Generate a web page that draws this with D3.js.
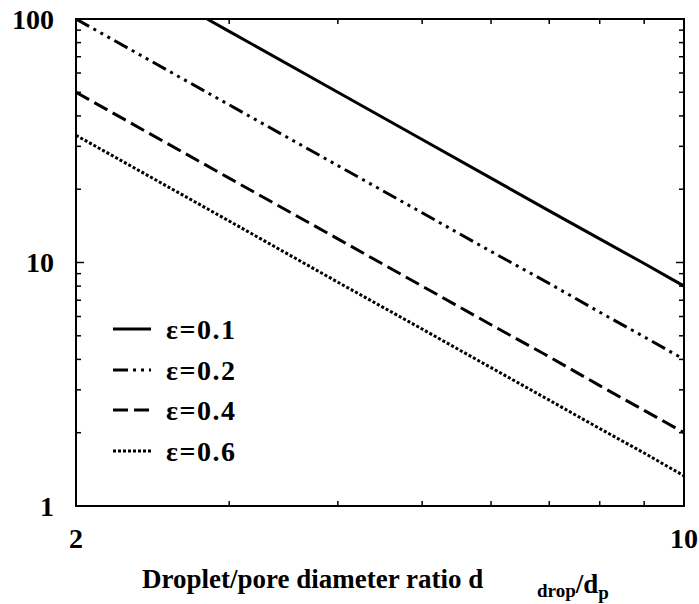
<!DOCTYPE html>
<html>
<head>
<meta charset="utf-8">
<script src="https://cdn.jsdelivr.net/npm/d3@7"></script>
<style>
  html, body { margin: 0; padding: 0; background: #fff; }
  svg { display: block; }
  text { font-family: "Liberation Serif", "Times New Roman", serif; font-weight: bold; fill: #000; }
</style>
</head>
<body>
<svg id="chart" width="699" height="604"></svg>
<script>
// ---- data ----
const xValues01 = [2.83, 3, 4, 5, 6, 7, 8, 9, 10];
const yValues01 = [100, 89, 50, 32, 22.2, 16.3, 12.5, 9.9, 8];
const xValues = [2, 3, 4, 5, 6, 7, 8, 9, 10];
const yValues02 = [100, 44.4, 25, 16, 11.1, 8.2, 6.25, 4.95, 4];
const yValues04 = [50, 22.2, 12.5, 8, 5.55, 4.1, 3.12, 2.47, 2];
const yValues06 = [33.3, 14.8, 8.3, 5.33, 3.7, 2.72, 2.08, 1.65, 1.33];
const seriesNames = ["ε=0.1", "ε=0.2", "ε=0.4", "ε=0.6"];
const xTickLabels = [2, 10];
const yTickLabels = [1, 10, 100];
const xMinorTicks = [3, 4, 5, 6, 7, 8, 9];
const yMinorTicks = [2, 3, 4, 5, 6, 7, 8, 9, 20, 30, 40, 50, 60, 70, 80, 90];
const yMajorTicks = [10];

const series = [
  { name: seriesNames[0], xs: xValues01, ys: yValues01, dash: null },
  { name: seriesNames[1], xs: xValues, ys: yValues02, dash: "15,5,3,5,3,5,3,5" },
  { name: seriesNames[2], xs: xValues, ys: yValues04, dash: "15,6" },
  { name: seriesNames[3], xs: xValues, ys: yValues06, dash: "3,2" }
];

// ---- layout ----
const L = 76, R = 684, T = 19, B = 506;
const svg = d3.select("#chart");

const x = d3.scaleLog().domain([2, 10]).range([L, R]);
const y = d3.scaleLog().domain([1, 100]).range([B, T]);

svg.append("defs").append("clipPath").attr("id", "clip")
  .append("rect").attr("x", L).attr("y", T).attr("width", R - L).attr("height", B - T);

// frame
svg.append("rect").attr("x", L).attr("y", T).attr("width", R - L).attr("height", B - T)
  .attr("fill", "none").attr("stroke", "#000").attr("stroke-width", 2);

// ticks (inward, all four sides)
const tickG = svg.append("g").attr("stroke", "#000").attr("stroke-width", 1.5);
const minorLen = 5, majorLen = 8;
xMinorTicks.forEach(v => {
  tickG.append("line").attr("x1", x(v)).attr("x2", x(v)).attr("y1", B).attr("y2", B - minorLen);
  tickG.append("line").attr("x1", x(v)).attr("x2", x(v)).attr("y1", T).attr("y2", T + minorLen);
});
yMinorTicks.forEach(v => {
  tickG.append("line").attr("x1", L).attr("x2", L + minorLen).attr("y1", y(v)).attr("y2", y(v));
  tickG.append("line").attr("x1", R).attr("x2", R - minorLen).attr("y1", y(v)).attr("y2", y(v));
});
yMajorTicks.forEach(v => {
  tickG.append("line").attr("x1", L).attr("x2", L + majorLen).attr("y1", y(v)).attr("y2", y(v));
  tickG.append("line").attr("x1", R).attr("x2", R - majorLen).attr("y1", y(v)).attr("y2", y(v));
});

// tick labels
svg.append("g").selectAll("text").data(yTickLabels).join("text")
  .attr("x", 54).attr("y", d => y(d)).attr("dy", "0.35em")
  .attr("text-anchor", "end").attr("font-size", 28).text(d => d);
svg.append("g").selectAll("text").data(xTickLabels).join("text")
  .attr("x", d => x(d)).attr("y", 548)
  .attr("text-anchor", "middle").attr("font-size", 28).text(d => d);

// x axis title
const title = svg.append("text").attr("x", 142).attr("y", 588).attr("font-size", 27);
title.append("tspan").text("Droplet/pore diameter ratio d");
title.append("tspan").attr("x", 537).attr("y", 597).attr("font-size", 19).text("drop");
title.append("tspan").attr("y", 593).attr("font-size", 27).text("/d");
title.append("tspan").attr("y", 599).attr("font-size", 19).text("p");

// lines
const line = d3.line().x(d => x(d[0])).y(d => y(d[1]));
const lg = svg.append("g").attr("clip-path", "url(#clip)");
series.forEach(s => {
  const pts = s.xs.map((v, i) => [v, s.ys[i]]);
  lg.append("path").datum(pts).attr("d", line)
    .attr("fill", "none").attr("stroke", "#000").attr("stroke-width", 3)
    .attr("stroke-dasharray", s.dash);
});

// legend
const legY = [329, 370, 410, 451];
series.forEach((s, i) => {
  svg.append("line").attr("x1", 113).attr("x2", 151).attr("y1", legY[i]).attr("y2", legY[i])
    .attr("stroke", "#000").attr("stroke-width", 3).attr("stroke-dasharray", s.dash);
  svg.append("text").attr("x", 166).attr("y", legY[i]).attr("dy", "0.35em")
    .attr("font-size", 28).attr("letter-spacing", 1.5).text(s.name);
});
</script>
</body>
</html>
